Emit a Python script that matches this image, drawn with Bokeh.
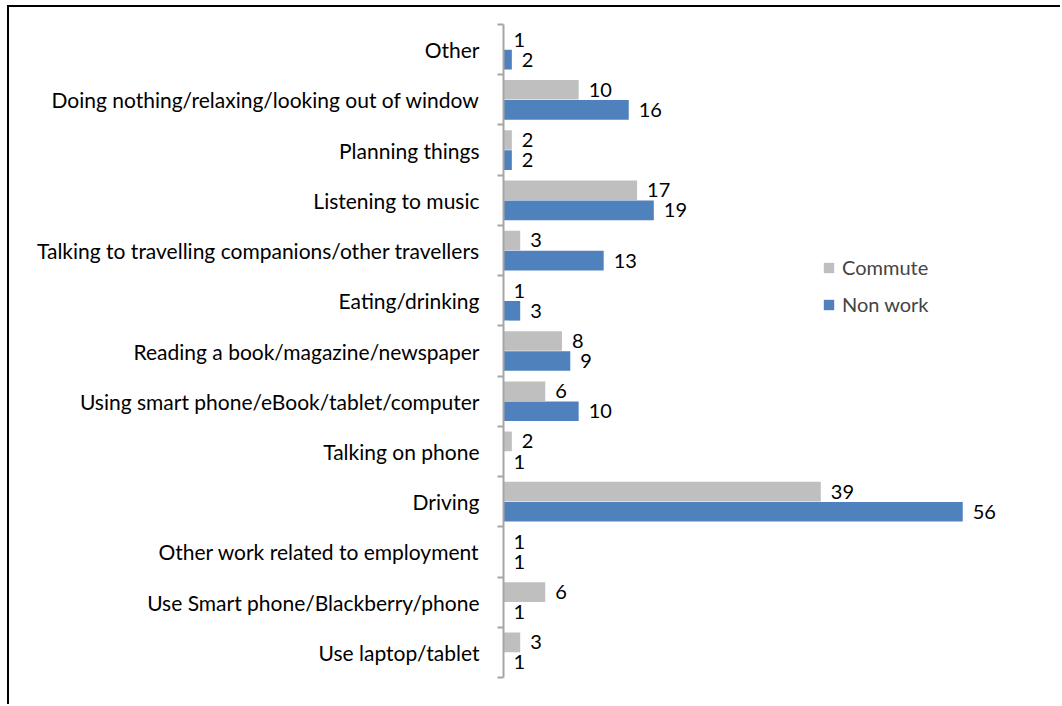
from bokeh.plotting import figure
from bokeh.models import ColumnDataSource, FixedTicker, Legend, LegendItem, Range1d
from bokeh.core.properties import value
from bokeh.embed import file_html
from bokeh.resources import INLINE

categories = [
    "Other",
    "Doing nothing/relaxing/looking out of window",
    "Planning things",
    "Listening to music",
    "Talking to travelling companions/other travellers",
    "Eating/drinking",
    "Reading a book/magazine/newspaper",
    "Using smart phone/eBook/tablet/computer",
    "Talking on phone",
    "Driving",
    "Other work related to employment",
    "Use Smart phone/Blackberry/phone",
    "Use laptop/tablet",
]
commute = [1, 10, 2, 17, 3, 1, 8, 6, 2, 39, 1, 6, 3]
non_work = [2, 16, 2, 19, 13, 3, 9, 10, 1, 56, 1, 1, 1]
series_names = ["Commute", "Non work"]
series_colors = ["#BFBFBF", "#4F81BD"]

FONT = "Lato"
n = len(categories)
pos = [n - 1 - i for i in range(n)]

src_c = ColumnDataSource(dict(y=[p + 0.2 for p in pos], v=commute, t=[str(v) for v in commute]))
src_n = ColumnDataSource(dict(y=[p - 0.2 for p in pos], v=non_work, t=[str(v) for v in non_work]))

p = figure(width=1053, height=699, output_backend="svg", toolbar_location=None,
           x_range=Range1d(1, 61), y_range=Range1d(-0.5, n - 0.5),
           min_border_left=494, min_border_right=58, min_border_top=17, min_border_bottom=29)
p.margin = (5, 0, 0, 7)
p.styles = {"border-top": "2px solid #000", "border-left": "2px solid #000"}
p.outline_line_color = None
p.xgrid.visible = False
p.ygrid.visible = False
p.xaxis.visible = False

rc = p.hbar(y="y", right="v", left=0, height=0.39, source=src_c, color=series_colors[0], line_color=None)
rn = p.hbar(y="y", right="v", left=0, height=0.39, source=src_n, color=series_colors[1], line_color=None)

for src in (src_c, src_n):
    p.text(x="v", y="y", text="t", source=src, x_offset=10, text_baseline="middle",
           text_align="left", text_font=value(FONT), text_font_size="20px", text_color="#000000")

ax = p.yaxis[0]
ax.ticker = FixedTicker(ticks=pos, minor_ticks=[k - 0.5 for k in range(n + 1)])
ax.major_label_overrides = {pp: categories[i] for i, pp in enumerate(pos)}
ax.major_tick_out = 0
ax.major_tick_in = 0
ax.minor_tick_out = 6
ax.minor_tick_in = 0
ax.axis_line_color = "#A6A6A6"
ax.axis_line_width = 2
ax.minor_tick_line_color = "#A6A6A6"
ax.minor_tick_line_width = 2
ax.major_label_standoff = 18
ax.major_label_text_font = FONT
ax.major_label_text_font_size = "21px"
ax.major_label_text_color = "#000000"

legend = Legend(items=[LegendItem(label=series_names[0], renderers=[rc]),
                       LegendItem(label=series_names[1], renderers=[rn])],
                location=(319, 361), padding=0, margin=0, spacing=13,
                glyph_width=13, glyph_height=13, label_standoff=7,
                label_text_font=FONT, label_text_font_size="20px",
                border_line_color=None, background_fill_alpha=0)
p.add_layout(legend, "center")

open("out.html", "w").write(file_html(p, INLINE))
